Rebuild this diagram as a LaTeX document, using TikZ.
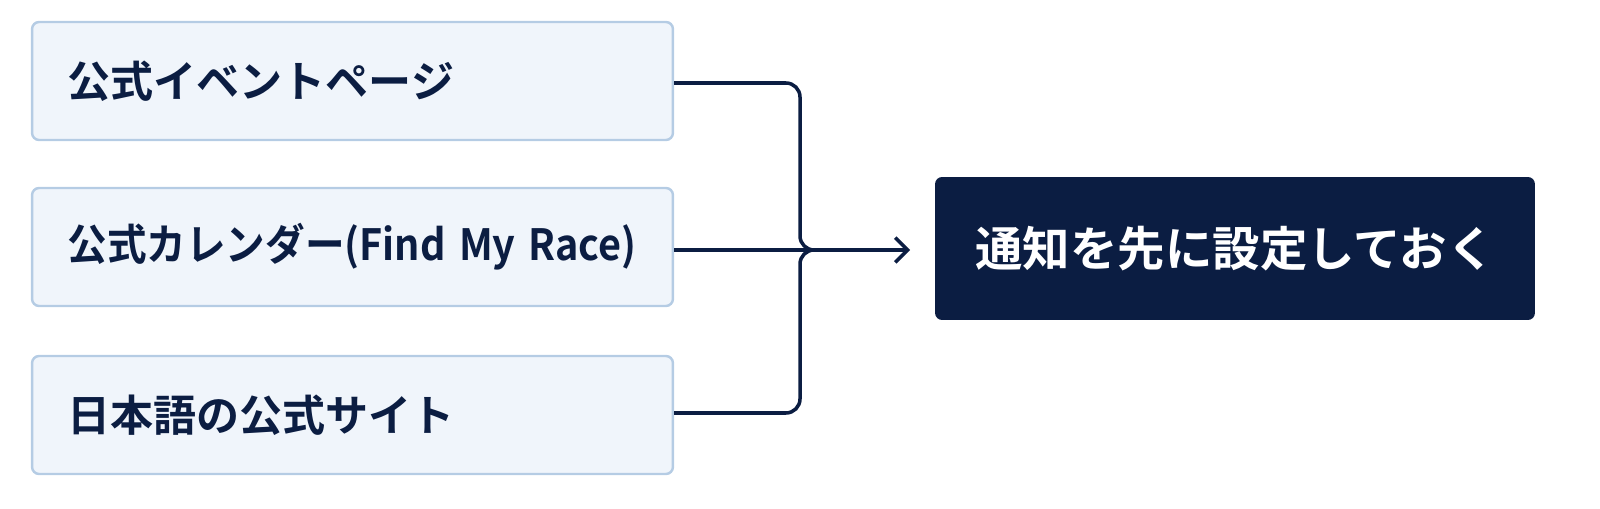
\documentclass[tikz,border=0pt]{standalone}
\usepackage{fontspec}
\setmainfont{Noto Sans CJK JP}[BoldFont={* Bold}]
\usetikzlibrary{positioning,arrows.meta}
\definecolor{navy}{HTML}{0B1D42}
\definecolor{boxfill}{HTML}{F0F5FB}
\definecolor{boxline}{HTML}{B5CCE4}

\begin{document}
\begin{tikzpicture}[
        x=0.02cm, y=-0.02cm,
        source/.style={rectangle, draw=boxline, line width=1.4pt, rounded corners=4pt,
        fill=boxfill, minimum width=12.82cm, minimum height=2.36cm,
        text=navy, font=\bfseries\fontsize{24.5}{28}\selectfont,
        text width=11.4cm, align=left, inner xsep=0.71cm, inner ysep=0pt},
        target/.style={rectangle, rounded corners=4pt, fill=navy,
        minimum width=12cm, minimum height=2.86cm, text=white,
        font=\bfseries\fontsize{27}{32}\selectfont, align=center},
        link/.style={draw=navy, line width=2pt, rounded corners=8pt},
        arrow/.style={draw=navy, line width=2pt, -{Straight Barb[length=7pt,width=14pt]}}
    ]
\useasboundingbox (0,0) rectangle (1600,509);

% Sources
        \node[source] (page) at (352.5,81) {公式イベントページ};
        \node[source] (calendar) at (352.5,247)
        {\scalebox{0.92}[1]{\mbox{公式カレンダー(Find My Race)}}};
        \node[source] (site) at (352.5,415) {日本語の公式サイト};

% Goal
        \node[target] (notify) at (1235,248.5) {通知を先に設定しておく};
        \coordinate (merge) at (820,250);

% Connectors
        \draw[link] (page.east |- 0,83) -- (800,83) -- (800,250) -- (merge);
        \draw[link] (site.east |- 0,413) -- (800,413) -- (800,250) -- (merge);
        \draw[arrow] (calendar.east |- 0,250) -- (910,250);

    \end{tikzpicture}
\end{document}
